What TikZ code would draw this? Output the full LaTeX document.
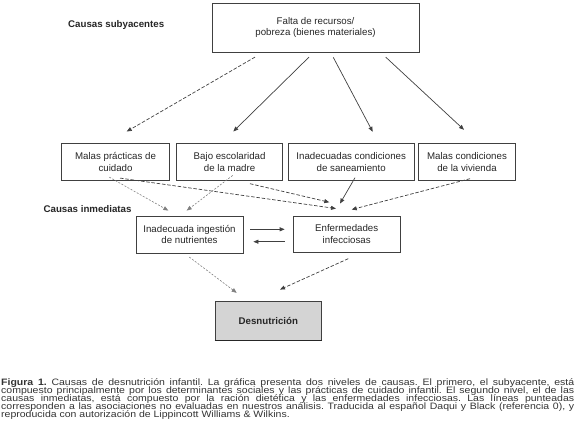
\documentclass[tikz,border=0pt]{standalone}
\usepackage{fontspec}
\setmainfont{Liberation Sans}
\newfontfamily\capfont[FakeStretch=1.13]{Liberation Sans}
\usetikzlibrary{arrows.meta}
\newcommand\diagfont{\fontsize{9.7}{11.5}\selectfont}
\frenchspacing
\begin{document}
\begin{tikzpicture}[x=1pt,y=-1pt,
  box/.style={draw=black!75, line width=0.8pt, inner sep=0pt, align=center, font=\diagfont, text=black!85},
  lab/.style={font=\diagfont\bfseries, text=black!85, inner sep=0pt},
  arr/.style={-{Triangle[length=5pt,width=4pt]}, line width=0.7pt, draw=black!75},
  dsh/.style={arr, dash pattern=on 3.5pt off 1.8pt},
  dotl/.style={arr, draw=black!50, dash pattern=on 2pt off 1.5pt, line width=0.6pt},
  captext/.style={anchor=base west, inner sep=0pt, font=\capfont\fontsize{9.3}{8.2}\selectfont, text=black!80}
]
\useasboundingbox (0,0) rectangle (580,439);

% boxes
\node[box, minimum width=207pt, minimum height=49pt] (top) at (315.5,27.5) {Falta de recursos/\\pobreza (bienes materiales)};
\node[box, minimum width=107.6pt, minimum height=37pt] (b1) at (115.5,162) {Malas prácticas de\\cuidado};
\node[box, minimum width=106pt, minimum height=37pt] (b2) at (229.6,162) {Bajo escolaridad\\de la madre};
\node[box, minimum width=126pt, minimum height=37pt] (b3) at (351.2,162) {Inadecuadas condiciones\\de saneamiento};
\node[box, minimum width=96.6pt, minimum height=37pt] (b4) at (467,162) {Malas condiciones\\de la vivienda};
\node[box, minimum width=107pt, minimum height=36.5pt] (inad) at (189.5,234.7) {Inadecuada ingestión\\de nutrientes};
\node[box, minimum width=106.7pt, minimum height=36.5pt] (enf) at (346.7,234.2) {Enfermedades\\infecciosas};
\node[box, minimum width=106.7pt, minimum height=38.3pt, fill=black!17, font=\diagfont\bfseries] (desn) at (268.3,320.8) {Desnutrición};
\draw[line width=1.6pt, black!85] (desn.south west) -- (desn.south east);

% labels
\node[lab, anchor=west] (ls) at (68,25) {Causas subyacentes};
\node[lab, anchor=east] (li) at (131.7,209) {Causas inmediatas};

% arrows from top
\draw[dsh] ([shift={(-60.5,4.7)}]top.south) -- ([shift={(11.2,-11.6)}]b1.north);
\draw[arr] ([shift={(-6.5,4.7)}]top.south) -- ([shift={(3.7,-11.6)}]b2.north);
\draw[arr] ([shift={(17.8,5)}]top.south) -- ([shift={(21.5,-11.3)}]b3.north);
\draw[arr] ([shift={(70.2,4.7)}]top.south) -- ([shift={(-3,-13.3)}]b4.north);

% middle arrows
\draw[dotl] ([shift={(-6.2,-3.8)}]b1.south) -- ([shift={(-21.2,-5.5)}]inad.north);
\draw[dotl] ([shift={(3.1,-5.5)}]b2.south) -- ([shift={(-2.8,-5.5)}]inad.north);
\draw[dsh] ([shift={(4.5,-2.8)}]b1.south) -- ([shift={(-10.7,-7)}]enf.north);
\draw[dsh] ([shift={(20.4,2.8)}]b2.south) -- ([shift={(-17.4,-13.3)}]enf.north);
\draw[arr] ([shift={(3.8,-3.2)}]b3.south) -- ([shift={(-6.7,-12)}]enf.north);
\draw[dsh] ([shift={(3,-2.2)}]b4.south) -- ([shift={(5,-6)}]enf.north);

% horizontal arrows
\draw[arr] ([shift={(7,-5.4)}]inad.east) -- ([shift={(-8.3,-4.9)}]enf.west);
\draw[arr] ([shift={(-8.3,7.5)}]enf.west) -- ([shift={(10,7)}]inad.east);

% bottom arrows
\draw[dotl] ([shift={(-0.2,3.7)}]inad.south) -- ([shift={(-31.6,-8.4)}]desn.north);
\draw[dsh] ([shift={(1.6,5.8)}]enf.south) -- ([shift={(11.7,-11.7)}]desn.north);

% caption
\node[captext] (c1) at (1,385) {\makebox[573pt][s]{\textbf{Figura 1.} Causas de desnutrición infantil. La gráfica presenta dos niveles de causas. El primero, el subyacente, está}};
\node[captext] (c2) at (1,393.2) {\makebox[573pt][s]{compuesto principalmente por los determinantes sociales y las prácticas de cuidado infantil. El segundo nivel, el de las}};
\node[captext] (c3) at (1,401.4) {\makebox[573pt][s]{causas inmediatas, está compuesto por la ración dietética y las enfermedades infecciosas. Las líneas punteadas}};
\node[captext] (c4) at (1,409.6) {\makebox[573pt][s]{corresponden a las asociaciones no evaluadas en nuestros análisis. Traducida al español Daqui y Black (referencia 0), y}};
\node[captext] (c5) at (1,417.8) {reproducida con autorización de Lippincott Williams \& Wilkins.};
\end{tikzpicture}
\end{document}
